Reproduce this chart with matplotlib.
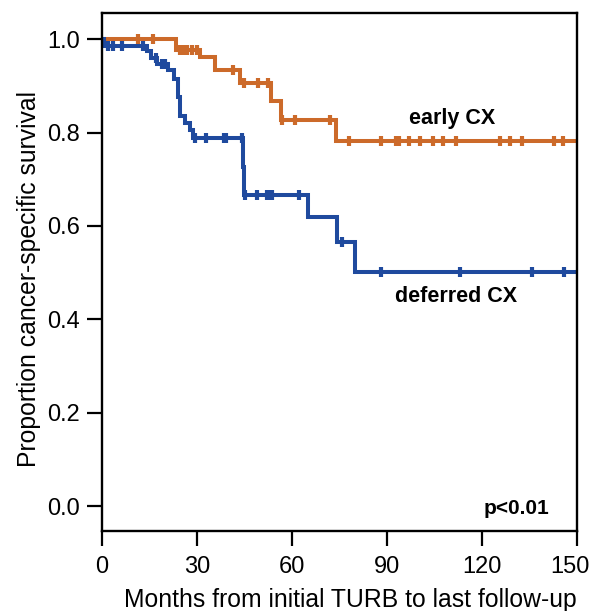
import numpy as np
import matplotlib
matplotlib.use("Agg")
import matplotlib.pyplot as plt
import matplotlib.transforms as mtransforms

plt.rcParams['font.family'] = ['Liberation Sans', 'DejaVu Sans']

# Early CX (orange) Kaplan-Meier steps
early_t = [0, 23.5, 31.0, 35.8, 43.5, 53.3, 56.5, 74.0, 150]
early_s = [1.0, 0.977, 0.962, 0.934, 0.906, 0.867, 0.828, 0.782, 0.782]
early_cens = [11.3, 16.0, 24.5, 26.0, 27.0, 28.5, 30.0, 41.5, 45.0, 49.3, 52.5,
              57.0, 61.0, 72.0, 78.1, 88.0, 93.0, 94.0, 97.0, 100.4, 104.5,
              107.7, 111.8, 125.9, 128.8, 132.6, 142.7, 145.6]

# Deferred CX (blue) Kaplan-Meier steps
def_t = [0, 0.5, 14.3, 15.5, 17.5, 21.0, 22.8, 24.1, 24.8, 26.2, 27.8, 28.8,
         44.4, 44.9, 65.0, 74.2, 79.8, 150]
def_s = [1.0, 0.985, 0.975, 0.960, 0.947, 0.935, 0.914, 0.876, 0.835, 0.820,
         0.805, 0.788, 0.727, 0.667, 0.619, 0.566, 0.502, 0.502]
def_cens = [2.0, 3.6, 6.2, 13.0, 17.0, 19.0, 20.0, 29.5, 33.0, 38.6, 39.2,
            44.1, 45.3, 49.0, 52.0, 53.0, 53.6, 62.2, 75.7, 88.0, 113.0,
            136.0, 145.9]

x_ticks = [0, 30, 60, 90, 120, 150]
y_ticks = [0.0, 0.2, 0.4, 0.6, 0.8, 1.0]

orange = '#CC6A2A'
blue = '#1F4A9E'


def surv_at(times, surv, t):
    idx = np.searchsorted(times, t, side='right') - 1
    return np.asarray(surv)[idx]


fig = plt.figure(figsize=(5.9, 6.11), dpi=100)
ax = fig.add_axes([0.1729, 0.1309, 0.9775 - 0.1729, 0.9782 - 0.1309])

for t, s, c, col in [(early_t, early_s, early_cens, orange),
                     (def_t, def_s, def_cens, blue)]:
    ax.step(t, s, where='post', color=col, lw=2.9, solid_joinstyle='miter')
    ax.plot(c, surv_at(t, s, c), linestyle='none', marker='|', color=col,
            markersize=7.5, markeredgewidth=3.0)

ax.set_xlim(0, 150)
ax.set_ylim(-0.0536, 1.0557)
ax.set_xticks(x_ticks)
ax.set_xticklabels([str(v) for v in x_ticks])
ax.set_yticks(y_ticks)
ax.set_yticklabels([f'{v:.1f}' for v in y_ticks])
ax.tick_params(direction='out', length=11, width=1.6, labelsize=17, pad=5,
               colors='black')
ax.tick_params(axis='x', pad=7)
for sp in ax.spines.values():
    sp.set_linewidth(1.7)
    sp.set_color('black')

# nudge the last x tick label left so it stays inside the figure
last = ax.get_xticklabels()[-1]
last.set_transform(last.get_transform() +
                   mtransforms.ScaledTranslation(-7 / 100, 0, fig.dpi_scale_trans))

ax.set_xlabel('Months from initial TURB to last follow-up', fontsize=17.8,
              labelpad=7)
ax.xaxis.label.set_x(0.523)
ax.set_ylabel('Proportion cancer-specific survival', fontsize=17.8, labelpad=4)
ax.yaxis.label.set_y(0.4865)

ax.text(110.5, 0.831, 'early CX', fontsize=15.5, fontweight='bold',
        ha='center', va='center')
ax.text(112, 0.448, 'deferred CX', fontsize=15.5, fontweight='bold',
        ha='center', va='center')
ax.text(131, -0.006, 'p<0.01', fontsize=15, fontweight='bold',
        ha='center', va='center')

fig.savefig('out.png', dpi=100)
